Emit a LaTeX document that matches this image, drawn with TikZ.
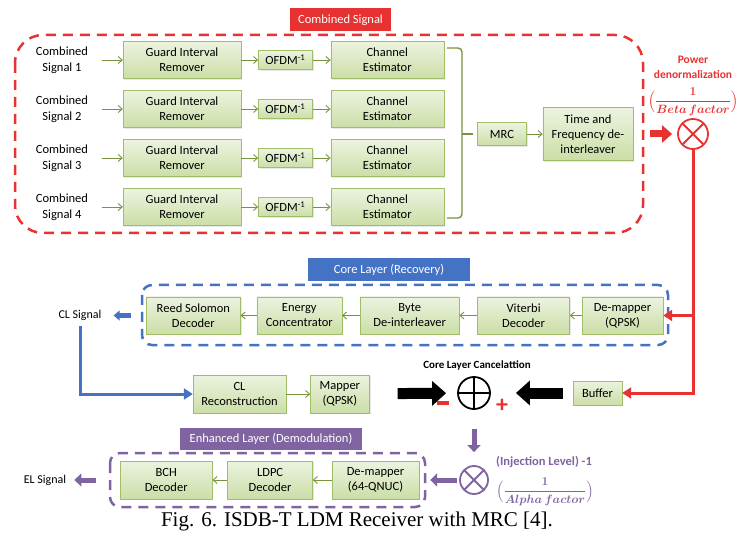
\documentclass[tikz,border=0pt]{standalone}
\usepackage{amsmath}
\usepackage{fontspec}
\setmainfont{Carlito}
\newfontfamily\capfont{Liberation Serif}
\usepackage{tikz}
\usetikzlibrary{arrows.meta, positioning, shadows}
\definecolor{boxline}{RGB}{160,190,105}
\definecolor{boxtop}{RGB}{236,243,224}
\definecolor{boxbot}{RGB}{203,222,166}
\definecolor{arrgreen}{RGB}{119,147,60}
\definecolor{sigred}{RGB}{232,50,50}
\definecolor{coreblue}{RGB}{68,114,196}
\definecolor{elpurple}{RGB}{128,100,162}

\begin{document}
\begin{tikzpicture}[
    x=1pt, y=-1pt,
    % -- boxes --
    blk/.style={rectangle, draw=boxline, top color=boxtop, bottom color=boxbot,
                minimum height=37pt, inner sep=1pt, align=center,
                font=\fontsize{12.5}{15}\selectfont,
                drop shadow={opacity=0.18, shadow xshift=1.2pt, shadow yshift=-1.2pt}},
    sigtxt/.style={inner sep=0pt, align=center, font=\fontsize{12.5}{16}\selectfont},
    tagbox/.style={rectangle, minimum height=23pt, text=white,
                   font=\fontsize{12.5}{14}\selectfont},
    dashframe/.style={line width=2.5pt, dash pattern=on 10pt off 7pt, rounded corners=10pt},
    mulc/.style={circle, draw=#1, minimum size=30pt, inner sep=0pt, line width=1.8pt,
                 path picture={\draw[#1, line width=1.8pt]
                   (path picture bounding box.north west) -- (path picture bounding box.south east)
                   (path picture bounding box.north east) -- (path picture bounding box.south west);}},
    addc/.style={circle, draw=black, minimum size=32pt, inner sep=0pt, line width=1.8pt,
                 path picture={\draw[line width=1.8pt]
                   (path picture bounding box.north) -- (path picture bounding box.south)
                   (path picture bounding box.west) -- (path picture bounding box.east);}},
    fracbox/.style={inner sep=0pt, font=\fontsize{12}{14}\selectfont\boldmath},
    % -- connectors --
    garr/.style={-{Straight Barb[length=4pt,width=7pt]}, line width=0.9pt, arrgreen},
    gline/.style={line width=1.4pt, arrgreen},
    redblk/.style={-{Triangle[length=10pt,width=17pt]}, line width=7pt, sigred},
    redline/.style={-{Triangle[length=9pt,width=11pt]}, line width=3pt, sigred},
    blkarr/.style={-{Triangle[length=14pt,width=24pt]}, line width=11pt, black},
    bluearr/.style={-{Triangle[length=6pt,width=10pt]}, line width=4.5pt, coreblue},
    blueline/.style={-{Triangle[length=9pt,width=11pt]}, line width=3pt, coreblue},
    purparr/.style={-{Triangle[length=7pt,width=13pt]}, line width=5pt, elpurple}
]
\useasboundingbox (0,0) rectangle (747,537);

% === Combined signal block ===
\draw[dashframe, sigred, rounded corners=28pt] (15,35) rectangle (643,233);
\node[tagbox, fill=sigred, minimum width=101pt] (ctag) at (340.5,20) {Combined Signal};

\node[sigtxt] (sig1) at (62,60) {Combined\\Signal 1};
\node[blk, minimum width=118pt] (gir1) at (182,60) {Guard Interval\\Remover};
\node[blk, minimum width=54pt, minimum height=19pt, right=17pt of gir1] (ofdm1) {OFDM\textsuperscript{-1}};
\node[blk, minimum width=113pt, right=18pt of ofdm1] (ce1) {Channel\\Estimator};

\node[sigtxt] (sig2) at (62,109) {Combined\\Signal 2};
\node[blk, minimum width=118pt] (gir2) at (182,109) {Guard Interval\\Remover};
\node[blk, minimum width=54pt, minimum height=19pt, right=17pt of gir2] (ofdm2) {OFDM\textsuperscript{-1}};
\node[blk, minimum width=113pt, right=18pt of ofdm2] (ce2) {Channel\\Estimator};

\node[sigtxt] (sig3) at (62,158) {Combined\\Signal 3};
\node[blk, minimum width=118pt] (gir3) at (182,158) {Guard Interval\\Remover};
\node[blk, minimum width=54pt, minimum height=19pt, right=17pt of gir3] (ofdm3) {OFDM\textsuperscript{-1}};
\node[blk, minimum width=113pt, right=18pt of ofdm3] (ce3) {Channel\\Estimator};

\node[sigtxt] (sig4) at (62,207) {Combined\\Signal 4};
\node[blk, minimum width=118pt] (gir4) at (182,207) {Guard Interval\\Remover};
\node[blk, minimum width=54pt, minimum height=19pt, right=17pt of gir4] (ofdm4) {OFDM\textsuperscript{-1}};
\node[blk, minimum width=113pt, right=18pt of ofdm4] (ce4) {Channel\\Estimator};

\node[blk, minimum width=49pt, minimum height=23pt] (mrc) at (502,134) {MRC};
\node[blk, minimum width=90pt, minimum height=53pt, right=16pt of mrc] (tf) {Time and\\Frequency de-\\interleaver};

\draw[garr, shorten <=14pt] (sig1) -- (gir1);
\draw[garr] (gir1) -- (ofdm1);
\draw[garr] (ofdm1) -- (ce1);
\draw[garr, shorten <=14pt] (sig2) -- (gir2);
\draw[garr] (gir2) -- (ofdm2);
\draw[garr] (ofdm2) -- (ce2);
\draw[garr, shorten <=14pt] (sig3) -- (gir3);
\draw[garr] (gir3) -- (ofdm3);
\draw[garr] (ofdm3) -- (ce3);
\draw[garr, shorten <=14pt] (sig4) -- (gir4);
\draw[garr] (gir4) -- (ofdm4);
\draw[garr] (ofdm4) -- (ce4);

% bracket into MRC
\coordinate (brtop) at (447,48);
\coordinate (brmid) at (462,134);
\coordinate (brbot) at (447,218);
\draw[gline, rounded corners=4pt] (brtop) -| (brmid) |- (brbot);
\draw[gline, shorten >=4pt] (brmid) -- (mrc.west);
\draw[garr] (mrc) -- (tf);

% === Power denormalization ===
\node[sigtxt, text=sigred, font=\fontsize{11.5}{15}\selectfont\bfseries] (pwr) at (693,67) {Power\\denormalization};
\node[fracbox, text=sigred] (betaf) at (693,102) {$\Bigl(\dfrac{1}{Beta\,factor}\Bigr)$};
\node[mulc=sigred] (beta) at (693,134) {};
\draw[redblk, shorten <=17pt, shorten >=5pt] (tf) -- (beta);

% === Core layer (recovery) ===
\draw[dashframe, coreblue] (142,285) rectangle (668,345);
\node[tagbox, fill=coreblue, minimum width=162pt] (coretag) at (389,269.5) {Core Layer (Recovery)};

\node[blk, minimum width=81pt] (dmq) at (622.5,315.5) {De-mapper\\(QPSK)};
\node[blk, minimum width=92pt, left=12pt of dmq] (vit) {Viterbi\\Decoder};
\node[blk, minimum width=99pt, left=18pt of vit] (bdi) {Byte\\De-interleaver};
\node[blk, minimum width=85pt, left=18pt of bdi] (enc) {Energy\\Concentrator};
\node[blk, minimum width=94pt, left=16pt of enc] (rsd) {Reed Solomon\\Decoder};

\draw[garr] (dmq) -- (vit);
\draw[garr] (vit) -- (bdi);
\draw[garr] (bdi) -- (enc);
\draw[garr] (enc) -- (rsd);

\node[sigtxt, font=\fontsize{12}{14}\selectfont] (clsig) at (80,315.5) {CL Signal};
\draw[bluearr, shorten <=15pt, shorten >=12pt] (rsd) -- (clsig);

% === Core layer cancellation ===
\node[blk, minimum width=93pt, minimum height=38pt] (clrec) at (239.5,394) {CL\\Reconstruction};
\node[blk, minimum width=59pt, minimum height=38pt, right=24pt of clrec] (mapper) {Mapper\\(QPSK)};
\draw[blueline, shorten <=5pt] (clsig.south) |- (clrec.west);
\draw[garr] (clrec) -- (mapper);

\node[inner sep=0pt, font=\fontsize{11}{12}\selectfont\bfseries] (canct) at (477,365) {Core Layer Cancelattion};
\node[addc] (cancel) at (474,393) {};
\node[inner sep=0pt] (minus) at (443,403) {\textcolor{sigred}{\rule{12pt}{4pt}}};
\node[inner sep=0pt, text=sigred, font=\fontsize{24}{24}\selectfont\bfseries] (plus) at (502,406) {+};
\node[blk, minimum width=49pt, minimum height=24pt] (buffer) at (597.5,393) {Buffer};

\draw[blkarr, shorten <=28pt, shorten >=11pt] (mapper) -- (cancel);
\draw[blkarr, shorten <=10pt, shorten >=25pt] (buffer) -- (cancel);

\draw[redline] (beta.south) |- (buffer.east);
\draw[redline] (beta.south |- dmq.east) -- (dmq.east);

% === Enhanced layer (demodulation) ===
\draw[dashframe, elpurple] (110,453) rectangle (425,507);
\node[tagbox, fill=elpurple, minimum width=182pt, minimum height=22pt] (eltag) at (271,439) {Enhanced Layer (Demodulation)};

\node[blk, minimum width=87pt, minimum height=38pt] (dm64) at (375.5,480) {De-mapper\\(64-QNUC)};
\node[blk, minimum width=85pt, minimum height=38pt, left=19pt of dm64] (ldpc) {LDPC\\Decoder};
\node[blk, minimum width=92pt, minimum height=38pt, left=15pt of ldpc] (bch) {BCH\\Decoder};

\draw[garr] (dm64) -- (ldpc);
\draw[garr] (ldpc) -- (bch);

\node[sigtxt, font=\fontsize{12}{14}\selectfont] (elsig) at (45,480) {EL Signal};
\draw[purparr, shorten <=24pt, shorten >=8pt] (bch) -- (elsig);

\node[mulc=elpurple, minimum size=28pt] (alpha) at (474,480) {};
\node[inner sep=0pt, text=elpurple, font=\fontsize{12.5}{14}\selectfont\bfseries] (inj) at (544,462) {(Injection Level) -1};
\node[fracbox, text=elpurple] (alphaf) at (545,492) {$\Bigl(\dfrac{1}{Alpha\,factor}\Bigr)$};
\draw[purparr, shorten <=19pt, shorten >=13pt] (cancel) -- (alpha);
\draw[purparr, shorten <=2pt, shorten >=11pt] (alpha) -- (dm64);

% === Caption ===
\node[inner sep=0pt, font=\capfont\fontsize{21}{23}\selectfont] (cap) at (357,521) {Fig. 6. ISDB-T LDM Receiver with MRC [4].};

\end{tikzpicture}
\end{document}
